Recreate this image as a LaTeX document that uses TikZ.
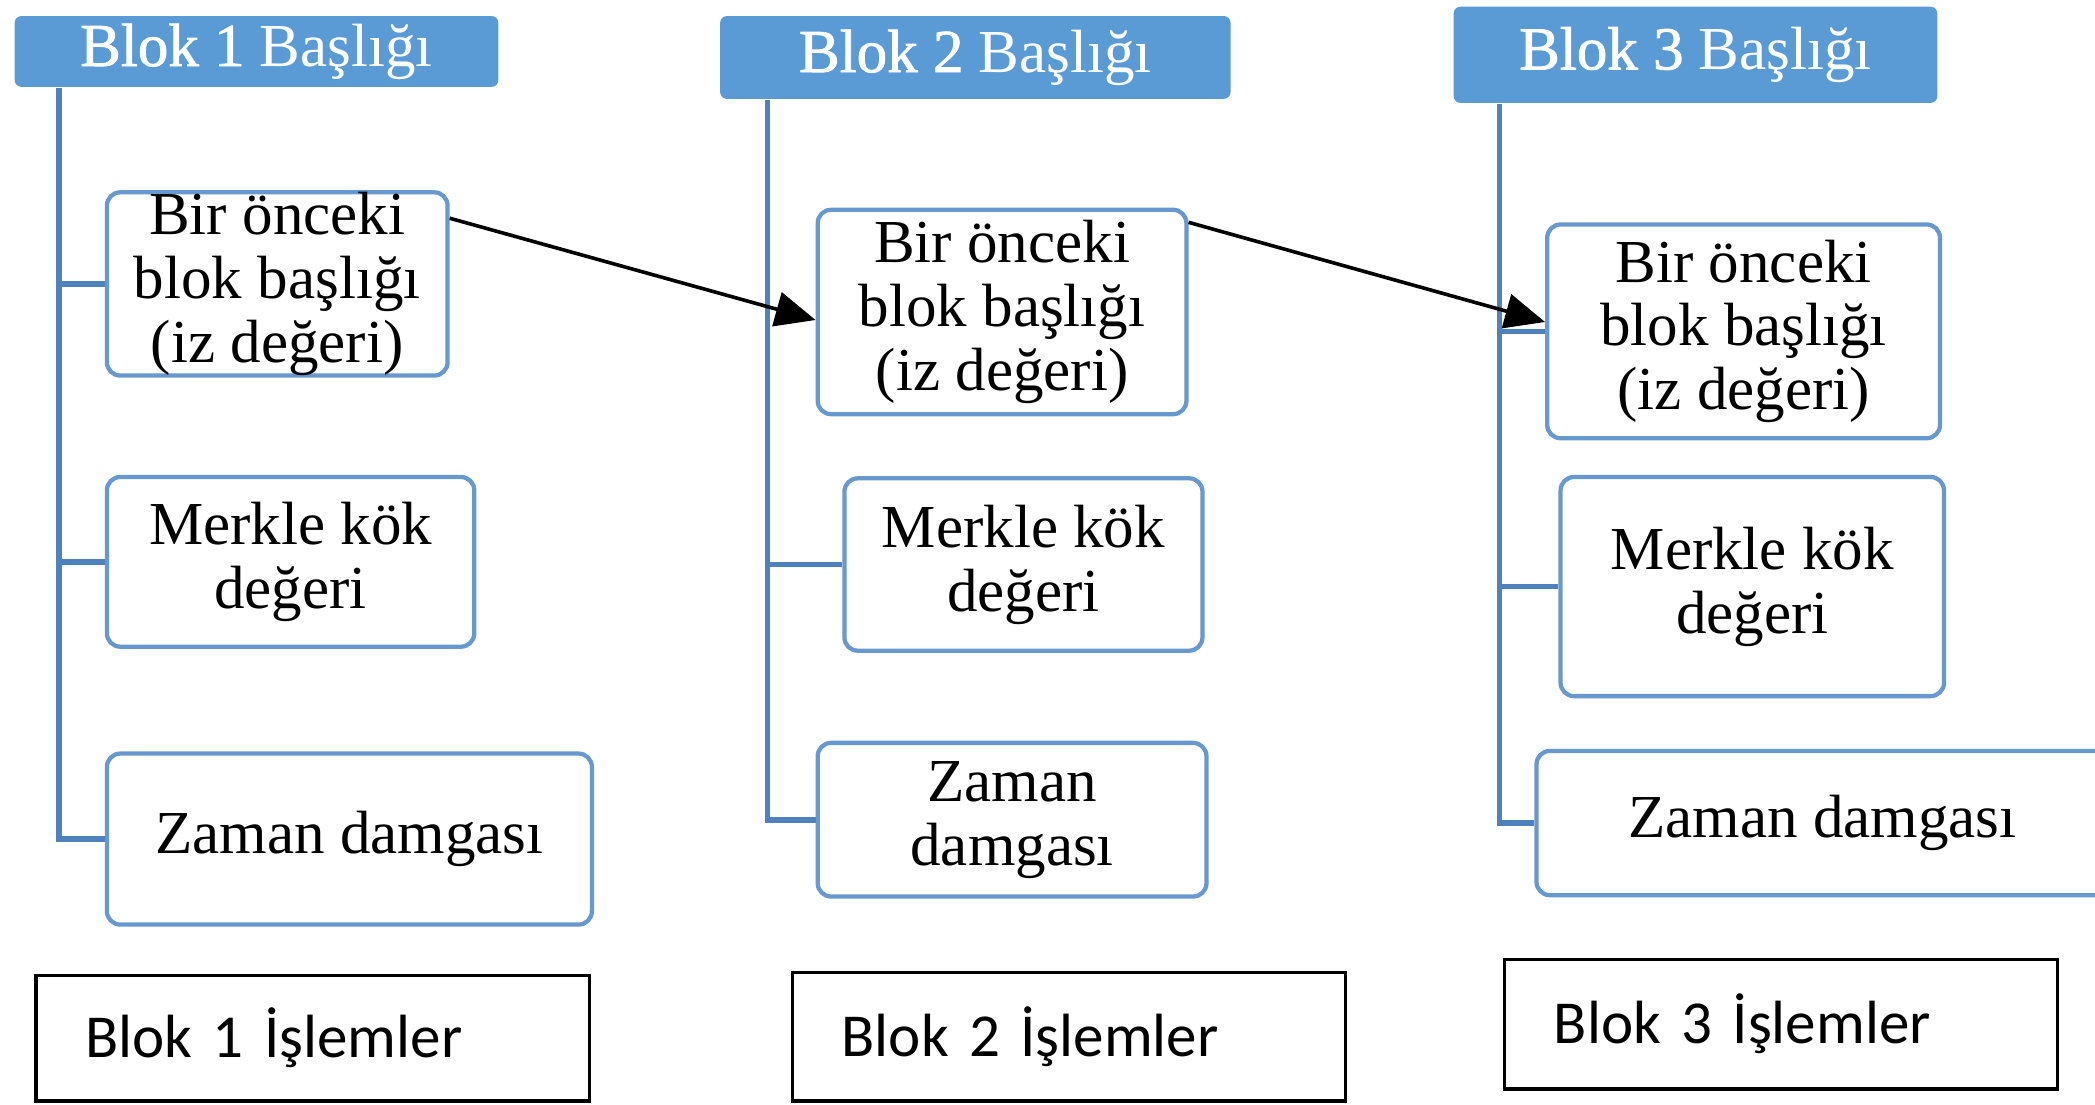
\documentclass[tikz,border=0pt]{standalone}
\usepackage{fontspec}
\setmainfont{Liberation Serif}
\newfontfamily\calibri{Carlito}
\newfontfamily\yarikalin[FakeBold=1.3]{Liberation Serif}
\usetikzlibrary{arrows.meta}

\definecolor{hdrblue}{RGB}{91,155,213}
\definecolor{lineblue}{RGB}{79,129,189}
\definecolor{edgeblue}{RGB}{104,152,208}

\tikzset{
  baslik/.style={fill=hdrblue, rounded corners=0.5mm, text=white, inner sep=0pt,
    font=\fontsize{13}{13.6}\selectfont},
  alan/.style={draw=edgeblue, line width=0.32mm, rounded corners=1mm, align=center,
    inner sep=0pt, font=\fontsize{13}{13.6}\selectfont},
  islem/.style={draw=black, line width=0.25mm, inner xsep=3.7mm, inner ysep=0pt,
    text width=34mm, minimum width=41.4mm, align=left, font=\calibri\fontsize{13}{14}\selectfont},
  govde/.style={draw=lineblue, line width=0.42mm},
  ok/.style={draw=black, line width=0.27mm, -{Triangle[length=3mm,width=2.6mm]}}
}

\begin{document}
\begin{tikzpicture}[x=0.1mm, y=-0.1mm]
    \useasboundingbox (0,0) rectangle (1568,827);
    \clip (0,0) rectangle (1568,827);

        % blok 1
        \node[baslik, minimum width=36.2mm, minimum height=5.3mm] (h1) at (192,38.5) {{\yarikalin Blok 1} Başlığı};
        \node[alan, minimum width=25.5mm, minimum height=13.1mm] (a1) at (207.5,212.5) {Bir önceki\\blok başlığı\\(iz değeri)};
        \node[alan, minimum width=27.5mm, minimum height=12.7mm] (b1) at (217.5,420.5) {Merkle kök\\değeri};
        \node[alan, minimum width=36.3mm, minimum height=12.8mm] (c1) at (261.5,628) {Zaman damgası};
        \node[islem, minimum height=9.4mm] (d1) at (234,777) {Blok 1 İşlemler};

        % blok 2
        \node[baslik, minimum width=38.2mm, minimum height=6.2mm] (h2) at (730,43) {{\yarikalin Blok 2} Başlığı};
        \node[alan, minimum width=27.6mm, minimum height=15.3mm] (a2) at (750,233.5) {Bir önceki\\blok başlığı\\(iz değeri)};
        \node[alan, minimum width=26.8mm, minimum height=12.9mm] (b2) at (766,422.5) {Merkle kök\\değeri};
        \node[alan, minimum width=29.1mm, minimum height=11.5mm] (c2) at (757.5,613.5) {Zaman\\damgası};
        \node[islem, minimum height=9.6mm] (d2) at (800,776) {Blok 2 İşlemler};

        % blok 3
        \node[baslik, minimum width=36.2mm, minimum height=7.2mm] (h3) at (1269,41) {{\yarikalin Blok 3} Başlığı};
        \node[alan, minimum width=29.4mm, minimum height=16mm] (a3) at (1305,248) {Bir önceki\\blok başlığı\\(iz değeri)};
        \node[alan, minimum width=28.7mm, minimum height=16.4mm] (b3) at (1311.5,439) {Merkle kök\\değeri};
        \node[alan, minimum width=42.8mm, minimum height=10.8mm] (c3) at (1364,616) {Zaman damgası};
        \node[islem, minimum height=9.7mm] (d3) at (1333,766.5) {Blok 3 İşlemler};

        % govde cizgileri
        \draw[govde] ([xshift=3.4mm]h1.south west) coordinate (t1) |- (c1.west);
        \draw[govde] (a1.west) -- (a1.west -| t1);
        \draw[govde] (b1.west) -- (b1.west -| t1);

        \draw[govde] ([xshift=3.6mm]h2.south west) coordinate (t2) |- (c2.west);
        \draw[govde] (b2.west) -- (b2.west -| t2);

        \draw[govde] ([xshift=3.5mm]h3.south west) coordinate (t3) |- (c3.west);
        \draw[govde] (a3.west) -- (a3.west -| t3);
        \draw[govde] (b3.west) -- (b3.west -| t3);

        % iz degeri oklari
        \draw[ok] ([yshift=-2.1mm]a1.north east) -- ([yshift=-0.6mm]a2.west);
        \draw[ok] ([yshift=-1.1mm]a2.north east) -- ([yshift=0.7mm]a3.west);

\end{tikzpicture}
\end{document}
